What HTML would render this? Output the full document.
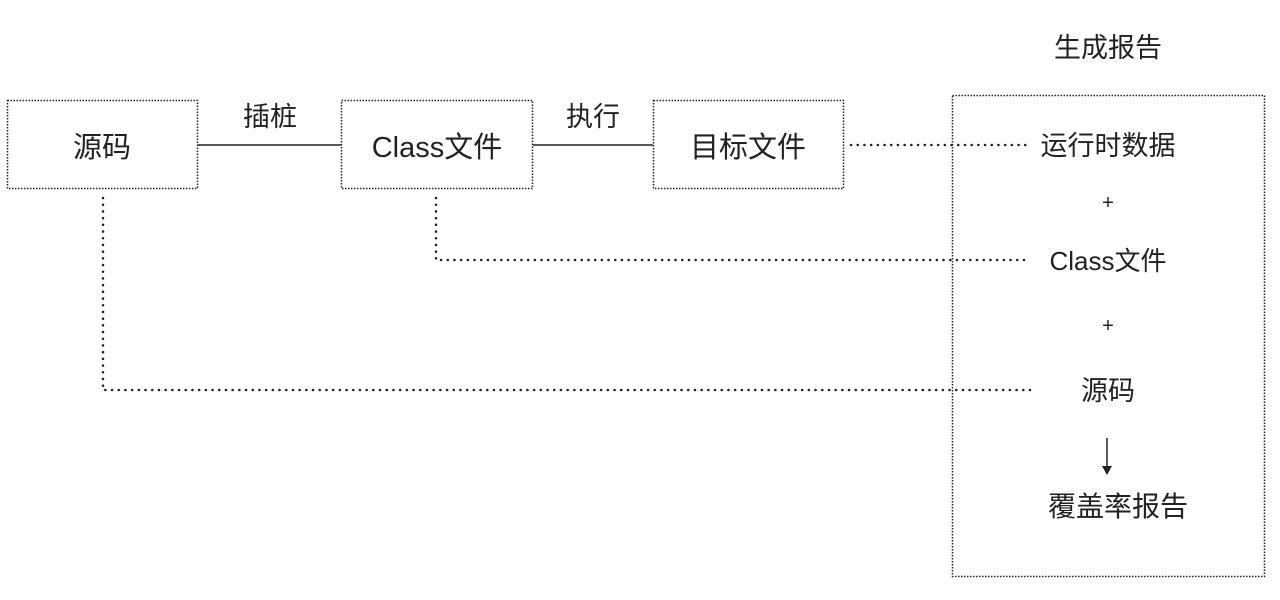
<!DOCTYPE html>
<html><head><meta charset="utf-8"><style>
html,body{margin:0;padding:0;background:#fff;}
svg text{font-family:"Liberation Sans","Noto Sans CJK SC",sans-serif;fill:#222;}
</style></head><body>
<svg width="1280" height="595" viewBox="0 0 1280 595" xmlns="http://www.w3.org/2000/svg">
<g fill="none" stroke="#222" stroke-width="1.5" stroke-dasharray="1.5 1.5">
<rect x="7.5" y="100.5" width="190" height="88"/>
<rect x="341.5" y="100.5" width="191" height="88"/>
<rect x="653.5" y="100.5" width="190" height="88"/>
<rect x="952.5" y="95.5" width="312" height="481"/>
</g>
<g stroke="#222" stroke-width="1.5">
<line x1="198" y1="145" x2="341" y2="145"/>
<line x1="533" y1="145" x2="653" y2="145"/>
<line x1="1107" y1="438" x2="1107" y2="470"/>
</g>
<polygon points="1102,466 1112,466 1107,475" fill="#222"/>
<g fill="none" stroke="#222" stroke-width="2.5" stroke-linecap="round" stroke-dasharray="0.1 6.6">
<path d="M851 145 H1030"/>
<path d="M436 198 V260 H1030"/>
<path d="M103 198 V390 H1030"/>
</g>
<g font-size="29" text-anchor="middle">
<text x="102" y="157">源码</text>
<text x="437" y="157">Class文件</text>
<text x="748" y="157">目标文件</text>
</g>
<g font-size="27" text-anchor="middle">
<text x="270" y="126">插桩</text>
<text x="593" y="126">执行</text>
<text x="1108" y="57">生成报告</text>
<text x="1108" y="155">运行时数据</text>
<text x="1108" y="209" font-size="20">+</text>
<text x="1108" y="270" font-size="26">Class文件</text>
<text x="1108" y="332" font-size="20">+</text>
<text x="1108" y="400">源码</text>
<text x="1118" y="516" font-size="28">覆盖率报告</text>
</g>
</svg>
</body></html>
